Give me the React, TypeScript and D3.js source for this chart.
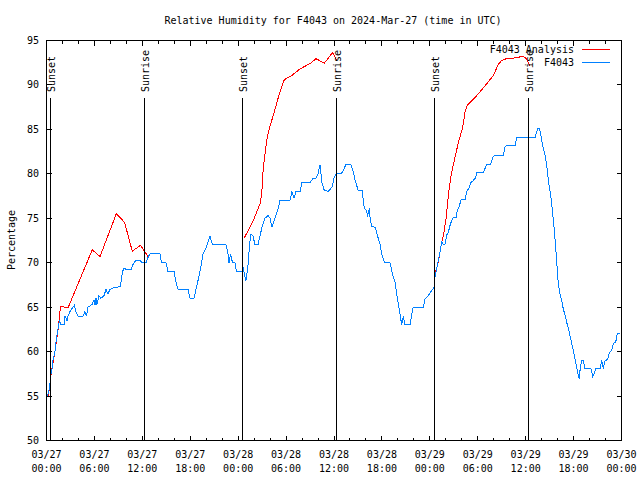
import React from "react";
import * as d3 from "d3";

const TITLE = "Relative Humidity for F4043 on 2024-Mar-27 (time in UTC)";
const Y_LABEL = "Percentage";
const SERIES_NAMES = ["F4043 Analysis", "F4043"];
const Y_TICKS = [50, 55, 60, 65, 70, 75, 80, 85, 90, 95];

// hours after 2024-03-27 00:00 UTC
const SUN_EVENTS: [number, string][] = [
  [0.48, "Sunset"],
  [12.25, "Sunrise"],
  [24.52, "Sunset"],
  [36.29, "Sunrise"],
  [48.56, "Sunset"],
  [60.33, "Sunrise"],
];

// F4043 analysis (red), three segments [hour, %]
const analysisSeg1: [number, number][] = [
  [0.23, 55], [0.65, 57.9], [1.06, 60], [1.48, 62.7], [1.75, 65.1], [2.69, 64.9],
  [5.73, 71.45], [6.7, 70.7], [8.74, 75.5], [9.77, 74.55], [10.74, 71.3],
  [11.77, 71.95], [12.87, 70.5],
];
const analysisSeg2: [number, number][] = [
  [24.77, 72.8], [25.48, 74], [25.9, 74.75], [26.73, 76.6], [26.95, 77.75],
  [27.15, 80.75], [27.36, 82.25], [27.57, 83.75], [27.9, 85.1], [28.2, 86],
  [28.4, 86.6], [29.03, 88.6], [29.45, 89.8], [29.78, 90.6], [30.7, 91.05],
  [31.74, 91.8], [32.99, 92.4], [33.75, 92.95], [34.79, 92.45], [35.84, 93.65],
  [36.38, 92.7],
];
const analysisSeg3: [number, number][] = [
  [48.56, 68.4], [49.06, 70.1], [49.49, 72.3], [49.77, 73.4], [50.03, 75],
  [50.31, 77.5], [50.61, 79.6], [50.94, 81], [51.28, 82.4], [51.69, 83.9],
  [52.12, 85.25], [52.4, 86.9], [52.69, 87.7], [53.87, 88.8], [54.91, 89.9],
  [55.95, 91.05], [56.57, 92.3], [57.0, 92.75], [57.7, 93], [58.25, 92.95],
  [58.88, 93.1], [59.7, 93.2], [60.04, 93], [60.54, 92.2],
];

// F4043 observations (blue) [hour, %]
const observed: [number, number][] = [
  [0.06, 55], [0.19, 55.2], [0.38, 56], [0.56, 57.5], [0.69, 58], [0.81, 59],
  [1.06, 60], [1.25, 61.5], [1.44, 62.5], [1.63, 63.5], [1.82, 63], [2.19, 63],
  [2.32, 64], [2.57, 63.5], [2.69, 64], [2.94, 64.5], [3.32, 65], [3.48, 65.2],
  [3.69, 64.5], [3.94, 64], [4.57, 64], [4.82, 64.5], [5.01, 64], [5.2, 65],
  [5.7, 65.3], [5.95, 65.8], [6.07, 65.2], [6.2, 66], [6.32, 65.3], [6.57, 66.3],
  [6.82, 66], [7.2, 66.3], [7.45, 67], [7.7, 66.5], [7.95, 67], [8.45, 67.2],
  [9.2, 67.3], [9.33, 67.8], [9.52, 69], [9.7, 69.4], [10.08, 69.2], [10.58, 69.2],
  [10.83, 69.8], [11.21, 70.3], [11.71, 70.3], [11.96, 70], [12.46, 70],
  [12.71, 70.6], [12.96, 71], [14.21, 71], [14.4, 70], [14.96, 70], [15.21, 69],
  [15.97, 69], [16.22, 67.8], [16.47, 67], [17.72, 67], [17.97, 66], [18.47, 66],
  [18.85, 67.5], [19.22, 69], [19.6, 71], [20.04, 71.8], [20.47, 73], [20.79, 72],
  [22.48, 72], [22.73, 71], [22.85, 70], [23.04, 71], [23.29, 70], [23.6, 70],
  [23.79, 69], [24.48, 69], [24.67, 69.4], [24.79, 68.6], [24.98, 68],
  [25.23, 69.7], [25.42, 72], [25.61, 73.2], [25.86, 73], [26.11, 72], [26.48, 72],
  [26.73, 73], [26.99, 74], [27.36, 75], [27.74, 75.3], [27.99, 75], [28.24, 74],
  [28.61, 75], [28.99, 76], [29.24, 77], [30.49, 77], [30.74, 78], [30.99, 77.3],
  [31.24, 78], [31.74, 78], [31.99, 79], [32.99, 79], [33.37, 79.5], [33.75, 79.5],
  [34.0, 80], [34.25, 81], [34.5, 79], [34.75, 78.2], [35.25, 78], [35.75, 78.5],
  [36.0, 79.5], [36.25, 80], [37.0, 80.1], [37.47, 81], [38.13, 81], [38.42, 80.2],
  [38.63, 79.3], [38.84, 78.7], [39.04, 78.1], [39.54, 78.1], [39.67, 77],
  [39.79, 76.1], [40.01, 75.9], [40.22, 75.3], [40.42, 76.1], [40.51, 75.1],
  [40.72, 74.1], [41.13, 74], [41.35, 73.4], [41.55, 72.7], [41.76, 72.1],
  [41.97, 71], [42.17, 70.4], [42.39, 70], [43.01, 70], [43.23, 69.1],
  [43.43, 68.4], [43.64, 67.8], [43.85, 66.5], [44.05, 65.4], [44.26, 64.25],
  [44.48, 63], [44.68, 64], [44.89, 63], [45.52, 63], [45.73, 64.2], [45.93, 65],
  [47.18, 65], [47.4, 65.9], [47.81, 66.3], [48.24, 66.9], [48.52, 67.2],
  [48.65, 68.4], [48.86, 69.3], [49.06, 70.2], [49.27, 71.2], [49.49, 72.3],
  [49.69, 72.1], [49.9, 72.1], [50.11, 73.1], [50.31, 73.4], [50.53, 74.2],
  [50.74, 74.75], [50.94, 75.1], [51.28, 75.1], [51.45, 75.9], [51.7, 76.4],
  [51.91, 77.1], [52.41, 77.1], [52.62, 78], [52.95, 78.5], [53.12, 79],
  [53.45, 79.25], [53.75, 79.6], [53.87, 80.1], [54.7, 80.1], [54.91, 80.6],
  [55.12, 81.1], [55.62, 81.1], [55.95, 82], [57.2, 82.1], [57.41, 83],
  [57.63, 83.2], [58.67, 83.2], [58.88, 84.1], [61.17, 84.05], [61.38, 84.7],
  [61.51, 85.1], [61.71, 85.1], [61.92, 84.3], [62.08, 83.4], [62.3, 82.6],
  [62.51, 81.7], [62.71, 80.4], [62.83, 79.4], [62.96, 78.5], [63.13, 77.6],
  [63.26, 76.6], [63.39, 75.5], [63.51, 74.4], [63.67, 72.7], [63.8, 71.2],
  [63.92, 69.7], [64.09, 67.6], [64.3, 66.5], [64.51, 65.75], [64.71, 64.8],
  [64.93, 64.1], [65.14, 63.3], [65.34, 62.6], [65.55, 61.8], [65.76, 60.95],
  [65.97, 60.1], [66.18, 59.2], [66.39, 58.25], [66.59, 57.3], [66.72, 56.9],
  [66.84, 58.25], [67.02, 59], [67.22, 59], [67.43, 58.1], [68.18, 58.1],
  [68.39, 57.2], [68.56, 57.5], [68.77, 58.1], [69.31, 58.1], [69.52, 59],
  [69.72, 58.1], [69.94, 59], [70.27, 59.1], [70.48, 59.9], [70.77, 60.1],
  [70.98, 60.95], [71.27, 61.05], [71.47, 62], [71.81, 62],
];

const BASE = Date.UTC(2024, 2, 27);
const HOUR = 3600 * 1000;
const toDate = (h: number) => new Date(BASE + h * HOUR);

const FONT = "'DejaVu Sans Mono', monospace";
const RED = "#ff0000";
const BLUE = "#0080ff";

export default function App() {
  const W = 640, H = 480;
  const L = 46.5, R = 621.5, T = 40.5, B = 440.5;
  const x = d3.scaleUtc().domain([toDate(0), toDate(72)]).range([L, R]);
  const y = d3.scaleLinear().domain([50, 95]).range([B, T]);
  const line = d3
    .line<[number, number]>()
    .x((d) => x(toDate(d[0])))
    .y((d) => y(d[1]));

  const majorTicks = x.ticks(d3.utcHour.every(6)!);
  const minorTicks = x.ticks(d3.utcHour.every(2)!);
  const fmtDate = d3.utcFormat("%m/%d");
  const fmtTime = d3.utcFormat("%H:%M");
  const px = (v: number) => Math.round(v) + 0.5;

  return (
    <svg width={W} height={H} style={{ display: "block", position: "absolute", left: 0, top: 0, background: "#fff" }}>
      <rect x={0} y={0} width={W} height={H} fill="#fff" />
      <g fontFamily={FONT} fontSize={10} fill="#000">
        <text x={333} y={23.5} textAnchor="middle">{TITLE}</text>
        <text transform="translate(14.5,240) rotate(-90)" textAnchor="middle">{Y_LABEL}</text>
        {Y_TICKS.map((t) => (
          <text key={t} x={39} y={y(t) + 3.5} textAnchor="end">{t}</text>
        ))}
        {majorTicks.map((d, i) => (
          <g key={i}>
            <text x={x(d)} y={458} textAnchor="middle">{fmtDate(d)}</text>
            <text x={x(d)} y={472} textAnchor="middle">{fmtTime(d)}</text>
          </g>
        ))}
      </g>
      <g stroke="#000" strokeWidth={1} shapeRendering="crispEdges">
        {minorTicks.map((d, i) => {
          const xx = px(x(d) - 0.5);
          return (
            <g key={i}>
              <line x1={xx} x2={xx} y1={B} y2={B - 3} />
              <line x1={xx} x2={xx} y1={T} y2={T + 3} />
            </g>
          );
        })}
        {majorTicks.map((d, i) => {
          const xx = px(x(d) - 0.5);
          return (
            <g key={i}>
              <line x1={xx} x2={xx} y1={B} y2={B - 5} />
              <line x1={xx} x2={xx} y1={T} y2={T + 5} />
            </g>
          );
        })}
        {Y_TICKS.map((t) => {
          const yy = px(y(t) - 0.5);
          return (
            <g key={t}>
              <line x1={L} x2={L + 5} y1={yy} y2={yy} />
              <line x1={R} x2={R - 5} y1={yy} y2={yy} />
            </g>
          );
        })}
      </g>
      <g fill="none" strokeWidth={1} shapeRendering="crispEdges">
        {[analysisSeg1, analysisSeg2, analysisSeg3].map((seg, i) => (
          <path key={i} d={line(seg) || ""} stroke={RED} />
        ))}
        <path d={line(observed) || ""} stroke={BLUE} />
      </g>
      {SUN_EVENTS.map(([h, label], i) => {
        const xx = px(x(toDate(h)) - 0.5);
        return (
          <g key={i}>
            <line x1={xx} x2={xx} y1={98} y2={B} stroke="#000" shapeRendering="crispEdges" />
            <text
              transform={`translate(${xx + 4.5},92) rotate(-90)`}
              fontFamily={FONT}
              fontSize={10}
              fill="#000"
            >
              {label}
            </text>
          </g>
        );
      })}
      <g fontFamily={FONT} fontSize={10}>
        <text x={574} y={53} textAnchor="end">{SERIES_NAMES[0]}</text>
        <line x1={582} x2={610} y1={49.5} y2={49.5} stroke={RED} shapeRendering="crispEdges" />
        <text x={574} y={66} textAnchor="end">{SERIES_NAMES[1]}</text>
        <line x1={582} x2={610} y1={62.5} y2={62.5} stroke={BLUE} shapeRendering="crispEdges" />
      </g>
      <rect x={L} y={T} width={R - L} height={B - T} fill="none" stroke="#000" shapeRendering="crispEdges" />
    </svg>
  );
}
